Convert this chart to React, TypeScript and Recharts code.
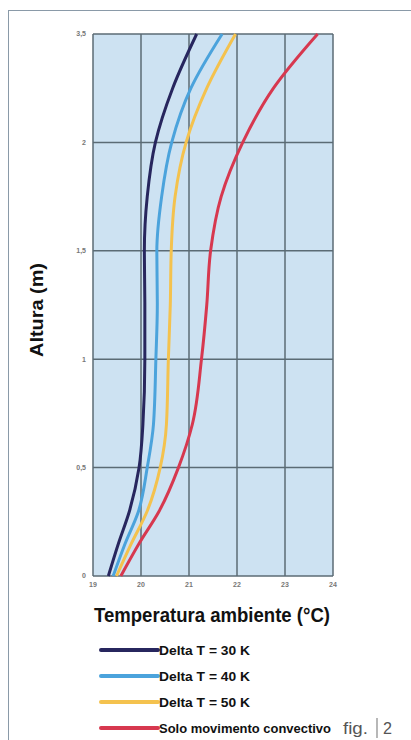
import { CartesianGrid, Line, LineChart, XAxis, YAxis } from 'recharts';

// heights (m) sampled along each profile
const heights = [0, 0.15, 0.3, 0.5, 0.7, 1, 1.25, 1.5, 1.75, 2, 2.25, 2.5];

// room temperature (°C) at each height
const delta30 = [19.32, 19.53, 19.76, 19.96, 20.04, 20.08, 20.08, 20.07, 20.13, 20.3, 20.66, 21.16];
const delta40 = [19.42, 19.67, 19.95, 20.13, 20.26, 20.31, 20.34, 20.33, 20.43, 20.64, 21.04, 21.69];
const delta50 = [19.49, 19.8, 20.13, 20.4, 20.53, 20.57, 20.61, 20.63, 20.71, 20.94, 21.37, 21.97];
const convective = [19.58, 19.96, 20.38, 20.78, 21.07, 21.26, 21.37, 21.45, 21.67, 22.12, 22.76, 23.68];

const xTicks = [19, 20, 21, 22, 23, 24];
const yTicks = [0, 0.5, 1, 1.5, 2, 2.5];
// labels as printed on the original (top one reads 3,5)
const yTickLabels = ['0', '0,5', '1', '1,5', '2', '3,5'];

const seriesNames = ['Delta T = 30 K', 'Delta T = 40 K', 'Delta T = 50 K', 'Solo movimento convectivo'];
const seriesKeys = ['d30', 'd40', 'd50', 'conv'];
const seriesColors = ['#27265e', '#4ba3dc', '#f4c24e', '#d7384f'];

const rows = heights.map((h, i) => ({
  h,
  d30: delta30[i],
  d40: delta40[i],
  d50: delta50[i],
  conv: convective[i],
}));

const font = "'Liberation Sans', Arial, sans-serif";

// the original uses a condensed bold face; squeeze text to the measured widths
function Squeezed({ x, y, w, size, children, weight = 'bold', fill = '#111', anchor = 'start', transform }: any) {
  return (
    <text
      x={x}
      y={y}
      textLength={w}
      lengthAdjust="spacingAndGlyphs"
      textAnchor={anchor}
      dominantBaseline="central"
      fontFamily={font}
      fontWeight={weight}
      fontSize={size}
      fill={fill}
      transform={transform}
    >
      {children}
    </text>
  );
}

function AxisTitleY(props: any) {
  const vb = props.viewBox || { x: 0, y: 0, width: 0, height: 0 };
  const cx = 37;
  const cy = vb.y + vb.height / 2 + 5;
  return (
    <Squeezed x={cx} y={cy} w={94} size={18} anchor="middle" transform={`rotate(-90, ${cx}, ${cy})`}>
      Altura (m)
    </Squeezed>
  );
}

function AxisTitleX(props: any) {
  const vb = props.viewBox || { x: 0, y: 0, width: 0, height: 0 };
  return (
    <Squeezed x={vb.x + vb.width / 2 - 1} y={615} w={236} size={20} anchor="middle">
      Temperatura ambiente (°C)
    </Squeezed>
  );
}

const legendWidths = [91, 91, 91, 172];

export default function App() {
  return (
    <div style={{ position: 'absolute', left: 0, top: 0, width: 411, height: 740, background: '#fff', overflow: 'hidden' }}>
      <div
        style={{
          position: 'absolute',
          left: 8,
          top: 10,
          width: 410,
          height: 740,
          borderTop: '1.5px solid #8a9aa8',
          borderLeft: '1.5px solid #8a9aa8',
        }}
      />
      <div style={{ position: 'absolute', left: 0, top: 0 }}>
        <LineChart
          width={411}
          height={740}
          data={rows}
          layout="vertical"
          margin={{ top: 34, right: 78, bottom: 144, left: 63 }}
        >
          <CartesianGrid fill="#cde2f2" stroke="#5b6b75" strokeWidth={1.5} />
          <XAxis
            type="number"
            domain={[19, 24]}
            ticks={xTicks}
            axisLine={false}
            tickLine={false}
            tickSize={0}
            tickMargin={6}
            height={20}
            tick={{ fontSize: 7, fill: '#777', fontWeight: 'bold', fontFamily: font }}
            label={<AxisTitleX />}
          />
          <YAxis
            type="number"
            dataKey="h"
            domain={[0, 2.5]}
            ticks={yTicks}
            reversed
            axisLine={false}
            tickLine={false}
            tickSize={0}
            tickMargin={7}
            width={30}
            tickFormatter={(v: number) => yTickLabels[yTicks.indexOf(v)] ?? String(v)}
            tick={{ fontSize: 7, fill: '#777', fontWeight: 'bold', fontFamily: font }}
            label={<AxisTitleY />}
          />
          {seriesKeys.map((k, i) => (
            <Line
              key={k}
              type="monotone"
              dataKey={k}
              name={seriesNames[i]}
              stroke={seriesColors[i]}
              strokeWidth={3}
              dot={false}
              isAnimationActive={false}
            />
          ))}
        </LineChart>
      </div>
      <svg width={411} height={740} style={{ position: 'absolute', left: 0, top: 0 }}>
        {seriesNames.map((n, i) => {
          const y = 650 + i * 26;
          return (
            <g key={n}>
              <line x1={101} x2={158} y1={y} y2={y} stroke={seriesColors[i]} strokeWidth={4} strokeLinecap="round" />
              <Squeezed x={159} y={y} w={legendWidths[i]} size={13.5}>
                {n}
              </Squeezed>
            </g>
          );
        })}
        <Squeezed x={343} y={728} w={25} size={17} weight="normal" fill="#555">
          fig.
        </Squeezed>
        <line x1={377} x2={377} y1={718} y2={738} stroke="#888" strokeWidth={1.2} />
        <Squeezed x={383} y={728} w={9} size={17} weight="normal" fill="#555">
          2
        </Squeezed>
      </svg>
    </div>
  );
}
